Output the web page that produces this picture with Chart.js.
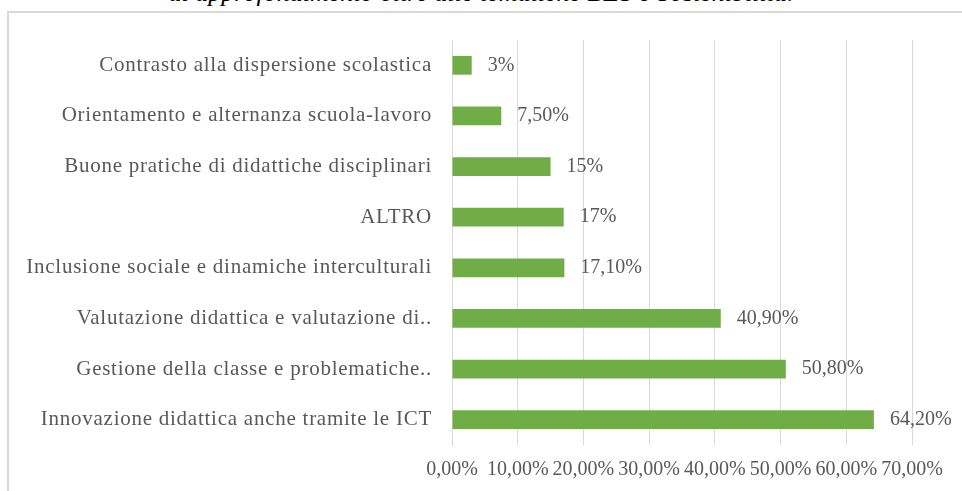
<!DOCTYPE html>
<html lang="it">
<head>
    <meta charset="UTF-8">
    <title>Tematiche di approfondimento</title>
    <script src="https://cdn.jsdelivr.net/npm/chart.js"></script>
    <style>
        html, body {
            margin: 0;
            padding: 0;
            width: 962px;
            height: 491px;
            overflow: hidden;
            background: #fff;
        }
        .caption {
            position: absolute;
            left: 0;
            width: 962px;
            top: -20px;
            text-align: center;
            font-family: "Liberation Serif", serif;
            font-style: italic;
            font-size: 26px;
            line-height: 26px;
            color: #000;
        }
        .frame {
            position: absolute;
            left: 7px;
            top: 11px;
            width: 1000px;
            height: 600px;
            border: 2px solid #d9d9d9;
        }
        .chart-container {
            position: absolute;
            left: 0;
            top: 0;
            width: 962px;
            height: 491px;
        }
    </style>
</head>
<body>
    <div class="caption">ai approfondimento oltre alle tematiche BES e Sostenibilità.</div>
    <div class="frame"></div>
    <div class="chart-container">
        <canvas id="temiChart"></canvas>
    </div>

    <script>
        // categorie (dall'alto verso il basso)
        const categories = [
            'Contrasto alla dispersione scolastica',
            'Orientamento e alternanza scuola-lavoro',
            'Buone pratiche di didattiche disciplinari',
            'ALTRO',
            'Inclusione sociale e dinamiche interculturali',
            'Valutazione didattica e valutazione di..',
            'Gestione della classe e problematiche..',
            'Innovazione didattica anche tramite le ICT'
        ];
        const percentuali = [3, 7.5, 15, 17, 17.1, 40.9, 50.8, 64.2];
        const etichette = ['3%', '7,50%', '15%', '17%', '17,10%', '40,90%', '50,80%', '64,20%'];
        const xTicks = [0, 10, 20, 30, 40, 50, 60, 70];

        const TEXT_COLOR = '#595959';
        const GRID_COLOR = '#d9d9d9';
        const FONT = '"Liberation Serif", serif';

        // il font originale e' piu' largo: spaziatura solo per le categorie
        const catSpacing = {
            id: 'catSpacing',
            beforeDraw(chart) {
                const y = chart.scales.y;
                if (y._patched) return;
                const origDraw = y.drawLabels;
                y.drawLabels = function (area) {
                    this.ctx.save();
                    this.ctx.letterSpacing = '0.75px';
                    origDraw.call(this, area);
                    this.ctx.restore();
                };
                y._patched = true;
            }
        };

        // etichette dei valori a destra delle barre
        const valueLabels = {
            id: 'valueLabels',
            afterDatasetsDraw(chart) {
                const ctx = chart.ctx;
                const meta = chart.getDatasetMeta(0);
                ctx.save();
                ctx.font = '20px ' + FONT;
                ctx.fillStyle = TEXT_COLOR;
                ctx.textAlign = 'left';
                ctx.textBaseline = 'middle';
                meta.data.forEach((bar, i) => {
                    ctx.fillText(etichette[i], bar.x + 16, bar.y);
                });
                ctx.restore();
            }
        };

        new Chart(document.getElementById('temiChart'), {
            type: 'bar',
            data: {
                labels: categories,
                datasets: [{
                    data: percentuali,
                    backgroundColor: '#70ad47',
                    borderWidth: 0,
                    barPercentage: 0.74,
                    categoryPercentage: 0.5
                }]
            },
            options: {
                indexAxis: 'y',
                responsive: true,
                maintainAspectRatio: false,
                animation: false,
                layout: {
                    padding: { top: 40, right: 50, left: 0, bottom: 0 }
                },
                plugins: {
                    legend: { display: false },
                    tooltip: { enabled: false }
                },
                scales: {
                    x: {
                        min: 0,
                        max: 70,
                        afterBuildTicks(axis) {
                            axis.ticks = xTicks.map(v => ({ value: v }));
                        },
                        afterFit(axis) {
                            axis.height = 46;
                        },
                        grid: {
                            color: GRID_COLOR,
                            drawTicks: false
                        },
                        border: { display: false },
                        ticks: {
                            autoSkip: false,
                            maxRotation: 0,
                            padding: 13,
                            color: TEXT_COLOR,
                            font: { family: FONT, size: 20 },
                            callback: v => v.toFixed(2).replace('.', ',') + '%'
                        }
                    },
                    y: {
                        afterFit(axis) {
                            axis.width = 452;
                        },
                        grid: { display: false, drawTicks: false },
                        border: { display: true, color: GRID_COLOR },
                        ticks: {
                            padding: 20,
                            color: TEXT_COLOR,
                            font: { family: FONT, size: 21 }
                        }
                    }
                }
            },
            plugins: [catSpacing, valueLabels]
        });
    </script>
</body>
</html>
